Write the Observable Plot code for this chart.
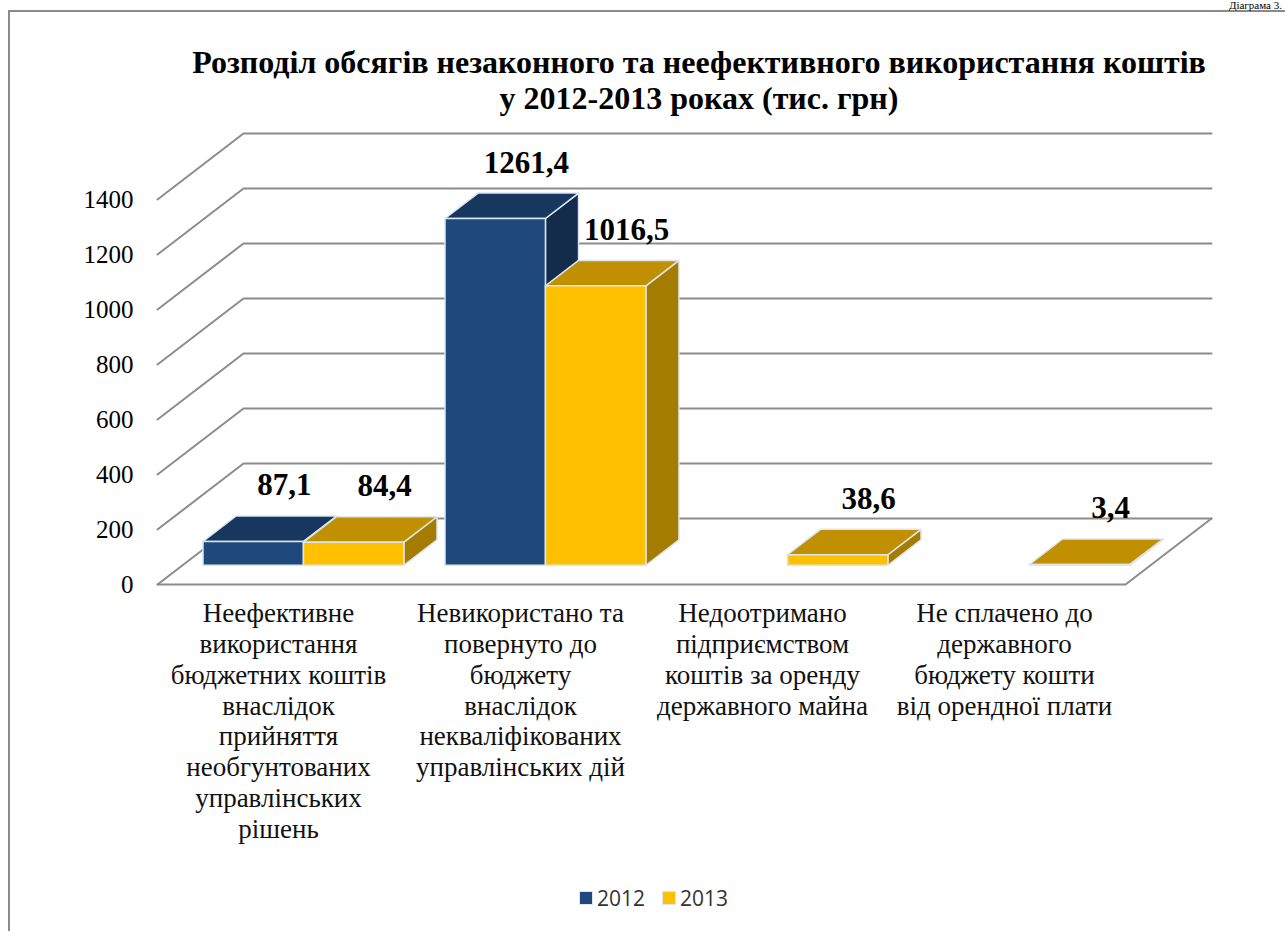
<!DOCTYPE html>
<html>
<head>
<meta charset="utf-8">
<script src="https://cdn.jsdelivr.net/npm/d3@7"></script>
<script src="https://cdn.jsdelivr.net/npm/@observablehq/plot@0.6"></script>
<style>
  html, body { margin: 0; padding: 0; background: #fff; }
  body { width: 1285px; height: 931px; overflow: hidden; position: relative; }
  #frame { position: absolute; left: 8px; top: 10px; width: 1400px; height: 1000px;
           border-left: 2px solid #8a8a8a; border-top: 2px solid #8a8a8a; }
  #corner { position: absolute; right: 3px; top: 0px; font: 11px/11px "Liberation Serif", serif; white-space: nowrap; color: #000; }
  #title { position: absolute; left: 0; top: 44px; width: 1398px; text-align: center;
           font: bold 32px/36px "Liberation Serif", serif; color: #000; }
  #chart { position: absolute; left: 0; top: 120px; }
  #legend { position: absolute; left: 580px; top: 884px; display: flex; align-items: center;
            font: 21px "Open Sans", "Liberation Sans", sans-serif; color: #333; }
  .sw { width: 12px; height: 12px; margin-right: 5px; outline: 1.5px solid #dce6f2; }
  .item { display: flex; align-items: center; margin-right: 18px; }
</style>
</head>
<body>
<div id="frame"></div>
<div id="corner">Діаграма 3.</div>
<div id="title">Розподіл обсягів незаконного та неефективного використання коштів<br>у 2012-2013 роках (тис. грн)</div>
<div id="chart"></div>
<div id="legend"></div>
<script>
// ---------- data ----------
const categories = [
  "Неефективне\nвикористання\nбюджетних коштів\nвнаслідок\nприйняття\nнеобгунтованих\nуправлінських\nрішень",
  "Невикористано та\nповернуто до\nбюджету\nвнаслідок\nнекваліфікованих\nуправлінських дій",
  "Недоотримано\nпідприємством\nкоштів за оренду\nдержавного майна",
  "Не сплачено до\nдержавного\nбюджету кошти\nвід орендної плати"
];
const years = ["2012", "2013"];
const values2012 = [87.1, 1261.4, null, null];
const values2013 = [84.4, 1016.5, 38.6, 3.4];
const yTicks = [0, 200, 400, 600, 800, 1000, 1200, 1400];

// ---------- styling / geometry ----------
const palette = {
  "2012": {front: "#1F497D", top: "#17375E", side: "#142C4C"},
  "2013": {front: "#FFC000", top: "#C09000", side: "#A47D00"}
};
const seriesValues = {"2012": values2012, "2013": values2013};
const DX = 86 / 242;   // floor depth in x data units
const DY = 240;        // floor depth in y data units
const F0 = 0.29, F1 = 0.675;     // bar depth span (fraction of floor depth)
const BAR_W = 0.415, GROUP_START = 0.085;
const proj = (x, v, f) => ({x: x + f * DX, y: v + f * DY});

// faces of the 3-D bars
const faces = [];
const labels = [];
categories.forEach((c, i) => {
  years.forEach((yr, j) => {
    const v = seriesValues[yr][i];
    if (v == null) return;
    const x0 = i + GROUP_START + j * BAR_W, x1 = x0 + BAR_W;
    const col = palette[yr];
    const add = (id, fill, pts) => pts.forEach(p => faces.push({id, fill, ...p}));
    add(`${i}-${yr}-side`, col.side, [proj(x1, 0, F0), proj(x1, 0, F1), proj(x1, v, F1), proj(x1, v, F0)]);
    add(`${i}-${yr}-top`, col.top, [proj(x0, v, F0), proj(x1, v, F0), proj(x1, v, F1), proj(x0, v, F1)]);
    add(`${i}-${yr}-front`, col.front, [proj(x0, 0, F0), proj(x1, 0, F0), proj(x1, v, F0), proj(x0, v, F0)]);
    labels.push({x: (x0 + x1) / 2, v, text: String(v).replace(".", ",")});
  });
});

// gridlines: side wall diagonal + back wall horizontal
const grid = [];
yTicks.forEach(t => {
  grid.push({t, x: 0, y: t});
  grid.push({t, ...proj(0, t, 1)});
  grid.push({t, ...proj(categories.length, t, 1)});
});
const floor = [
  {x: 0, y: 0}, {x: categories.length, y: 0}, proj(categories.length, 0, 1)
];

const serif = "Liberation Serif, Times New Roman, serif";

const chart = Plot.plot({
  width: 1285,
  height: 740,
  marginLeft: 157,
  marginRight: 160,
  marginTop: 79,
  marginBottom: 276,
  x: {domain: [0, categories.length], axis: null},
  y: {domain: [0, 1400], axis: null},
  color: {type: "identity"},
  marks: [
    Plot.line(grid, {x: "x", y: "y", z: "t", stroke: "#8c8c8c", strokeWidth: 2}),
    Plot.line(floor, {x: "x", y: "y", stroke: "#8c8c8c", strokeWidth: 2}),
    Plot.line(faces, {x: "x", y: "y", z: "id", fill: "fill", stroke: "#dce6f2", strokeWidth: 1.5, curve: "linear-closed"}),
    Plot.text(yTicks, {x: () => 0, y: d => d, text: d => String(d), textAnchor: "end", dx: -24,
      fontSize: 25, fontFamily: serif, fill: "#000"}),
    Plot.text(labels, {x: "x", y: "v", text: "text", dx: 56, dy: -75,
      fontSize: 31, fontWeight: "bold", fontFamily: serif, fill: "#000"}),
    Plot.text(categories, {x: (d, i) => i + 0.5, y: () => 0, text: d => d, lineAnchor: "top", dy: 16,
      lineHeight: 1.14, fontSize: 27, fontFamily: serif, fill: "#111"})
  ]
});
document.getElementById("chart").appendChild(chart);

// legend
const legend = document.getElementById("legend");
years.forEach(yr => {
  const item = document.createElement("div");
  item.className = "item";
  const sw = document.createElement("div");
  sw.className = "sw";
  sw.style.background = palette[yr].front;
  const label = document.createElement("span");
  label.textContent = yr;
  item.appendChild(sw);
  item.appendChild(label);
  legend.appendChild(item);
});
</script>
</body>
</html>
